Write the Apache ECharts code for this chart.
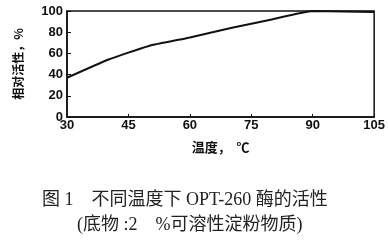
<!DOCTYPE html>
<html><head><meta charset="utf-8">
<script src="https://cdn.jsdelivr.net/npm/echarts@6/dist/echarts.min.js"></script>
<style>html,body{margin:0;padding:0;background:#fff}#c{width:388px;height:243px}</style>
</head><body><div id="c"></div>
<script>
var temps = [30, 40, 50, 60, 70, 80, 90, 105];
var activity = [37, 54, 67, 75, 84, 92, 100, 99];
var xTicks = [30, 45, 60, 75, 90, 105];
var yTicks = [0, 20, 40, 60, 80, 100];
var xName = '温度，  ℃';
var yName = '相对活性，%';
var caption1 = '图 1　不同温度下 OPT-260 酶的活性';
var caption2 = '(底物 :2　%可溶性淀粉物质)';

var chart = echarts.init(document.getElementById('c'));
chart.setOption({
  animation: false,
  grid: {left: 67, right: 11, top: 11, bottom: 126, show: true, borderColor: '#111', borderWidth: 1.5},
  xAxis: {
    type: 'value', min: 30, max: 105, interval: 15,
    name: xName, nameLocation: 'middle', nameGap: 24,
    nameTextStyle: {color: '#111', fontSize: 13, fontWeight: 'bold', fontFamily: 'Noto Sans CJK SC'},
    axisLine: {show: true, lineStyle: {color: '#111', width: 1.5}},
    axisTick: {show: true, inside: true, length: 3, lineStyle: {color: '#111'}},
    axisLabel: {color: '#111', fontSize: 13, fontWeight: 'bold', fontFamily: 'Liberation Sans', margin: 2},
    splitLine: {show: false}
  },
  yAxis: {
    type: 'value', min: 0, max: 100, interval: 20,
    name: yName, nameLocation: 'middle', nameGap: 43, nameRotate: 90,
    nameTextStyle: {color: '#111', fontSize: 12, fontWeight: 'bold', fontFamily: 'Noto Sans CJK SC'},
    axisLine: {show: true, lineStyle: {color: '#111', width: 1.5}},
    axisTick: {show: true, inside: true, length: 4, lineStyle: {color: '#111'}},
    axisLabel: {color: '#111', fontSize: 13, fontWeight: 'bold', fontFamily: 'Liberation Sans', margin: 4},
    splitLine: {show: false}
  },
  series: [{
    type: 'line', data: temps.map(function(t, i){return [t, activity[i]];}),
    showSymbol: false, smooth: 0.15, clip: false,
    lineStyle: {color: '#111', width: 2}
  }],
  graphic: [
    {type: 'text', left: 42, top: 191, style: {text: caption1, fontSize: 18, fill: '#222', fontFamily: 'Liberation Serif, Noto Sans CJK SC'}},
    {type: 'text', left: 77, top: 216, style: {text: caption2, fontSize: 18, fill: '#222', fontFamily: 'Liberation Serif, Noto Sans CJK SC'}}
  ]
});
</script></body></html>
